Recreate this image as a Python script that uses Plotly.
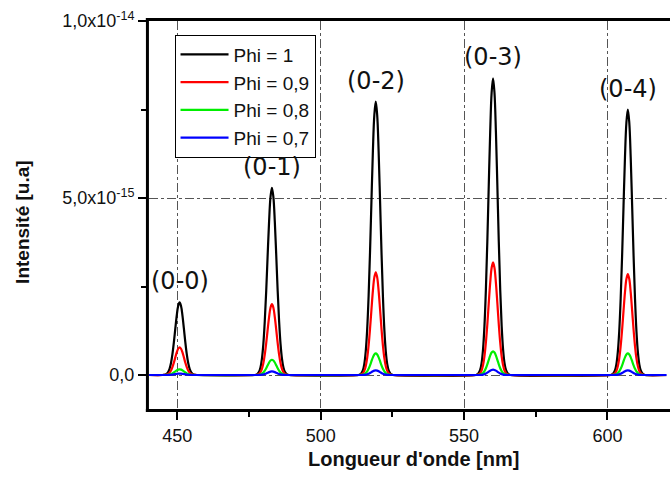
import plotly.graph_objects as go

# ---- data ----
band_labels = ["(0-0)", "(0-1)", "(0-2)", "(0-3)", "(0-4)"]
band_centers_nm = [450.8, 483.0, 519.2, 560.1, 607.1]

series_names = ["Phi = 1", "Phi = 0,9", "Phi = 0,8", "Phi = 0,7"]
peak_phi_1 = [2.05e-15, 5.29e-15, 7.72e-15, 8.38e-15, 7.50e-15]
peak_phi_09 = [0.78e-15, 2.00e-15, 2.90e-15, 3.18e-15, 2.85e-15]
peak_phi_08 = [0.16e-15, 0.43e-15, 0.61e-15, 0.67e-15, 0.61e-15]
peak_phi_07 = [0.04e-15, 0.10e-15, 0.13e-15, 0.15e-15, 0.13e-15]

# normalised band shape (offset in nm from band centre, relative height)
shape_offsets_nm = [-6.0, -5.5, -5.0, -4.5, -4.0, -3.5, -3.0, -2.5, -2.0, -1.5, -1.0, -0.5, 0.0,
                    0.5, 1.0, 1.5, 2.0, 2.5, 3.0, 3.5, 4.0, 4.5, 5.0, 5.5, 6.0]
shape_rel = [0.0, 0.002, 0.007, 0.017, 0.04, 0.086, 0.165, 0.287, 0.449, 0.638, 0.819, 0.951, 1.0,
             0.951, 0.819, 0.638, 0.449, 0.287, 0.165, 0.086, 0.04, 0.017, 0.007, 0.002, 0.0]

x_start_nm, x_end_nm = 440.0, 621.5

x_tick_vals = [450, 500, 550, 600]
x_minor_vals = [475, 525, 575]
y_tick_vals = [0.0, 5e-15, 1e-14]
y_tick_text = ["0,0", "5,0x10<sup>-15</sup>", "1,0x10<sup>-14</sup>"]
y_minor_vals = [2.5e-15, 7.5e-15]

series_peaks = [peak_phi_1, peak_phi_09, peak_phi_08, peak_phi_07]
colors = ["#000000", "#ff0000", "#00ee00", "#0000ff"]


def build_spectrum(peaks):
    xs, ys = [x_start_nm], [0.0]
    for c, h in zip(band_centers_nm, peaks):
        for o, r in zip(shape_offsets_nm, shape_rel):
            xs.append(c + o)
            ys.append(h * r)
    xs.append(x_end_nm)
    ys.append(0.0)
    return xs, ys


fig = go.Figure()
for name, peaks, col in zip(series_names, series_peaks, colors):
    xs, ys = build_spectrum(peaks)
    fig.add_trace(go.Scatter(x=xs, y=ys, mode="lines", name=name,
                             line=dict(color=col, width=2.2), line_shape="spline"))

for lab, c, h in zip(band_labels, band_centers_nm, peak_phi_1):
    fig.add_annotation(x=c, y=h, text=lab, showarrow=False, yanchor="middle", yshift=21,
                       font=dict(family="DejaVu Sans", size=24, color="#111"))

# axis titles
fig.add_annotation(xref="paper", yref="paper", x=0.507, y=-0.128, text="<b>Longueur d'onde [nm]</b>",
                   showarrow=False, xanchor="center", yanchor="middle",
                   font=dict(family="Arial", size=20, color="#111"))
fig.add_annotation(xref="paper", yref="paper", x=-0.242, y=0.482, text="<b>Intensité [u.a]</b>",
                   showarrow=False, textangle=-90, xanchor="center", yanchor="middle",
                   font=dict(family="Arial", size=19, color="#111"))

# hide the stray edge line at the cut-off right side of the plot box
fig.add_shape(type="rect", xref="paper", yref="paper", x0=0.9935, x1=1.003, y0=0.0, y1=1.0,
              line=dict(width=0), fillcolor="white", layer="above")

# frame lines (left, bottom, top) of the plot box
frame = dict(color="black", width=3)
fig.add_shape(type="line", xref="paper", yref="paper", x0=-0.003, x1=-0.003, y0=-0.0077, y1=1.0077,
              line=frame, layer="above")
fig.add_shape(type="line", xref="paper", yref="paper", x0=-0.006, x1=1.0, y0=-0.0039, y1=-0.0039,
              line=frame, layer="above")
fig.add_shape(type="line", xref="paper", yref="paper", x0=-0.006, x1=1.0, y0=1.0039, y1=1.0039,
              line=frame, layer="above")

fig.update_layout(
    width=670, height=477,
    margin=dict(l=149, r=0, t=21, b=68),
    paper_bgcolor="white", plot_bgcolor="white",
    font=dict(family="Arial", size=18, color="#111"),
    showlegend=True,
    legend=dict(x=0.049, y=0.965, xanchor="left", yanchor="top",
                bgcolor="white", bordercolor="black", borderwidth=1,
                font=dict(family="Arial", size=19, color="#111"),
                itemwidth=48, tracegroupgap=0),
)
fig.update_xaxes(
    range=[440.13, 621.8], tickvals=x_tick_vals,
    showline=False,
    ticks="outside", ticklen=10, tickwidth=2, tickcolor="black",
    tickfont=dict(family="Arial", size=18, color="#111"),
    showgrid=True, gridcolor="#555", griddash="dashdot", gridwidth=1,
    zeroline=False,
    minor=dict(tickvals=x_minor_vals, ticks="outside", ticklen=7, tickwidth=2,
               tickcolor="black", showgrid=False),
)
fig.update_yaxes(
    range=[-0.96e-15, 1.0e-14], tickvals=y_tick_vals, ticktext=y_tick_text,
    showline=False,
    ticks="outside", ticklen=10, tickwidth=2, tickcolor="black",
    tickfont=dict(family="Arial", size=18, color="#111"),
    showgrid=True, gridcolor="#555", griddash="dashdot", gridwidth=1,
    zeroline=False,
    minor=dict(tickvals=y_minor_vals, ticks="outside", ticklen=7, tickwidth=2,
               tickcolor="black", showgrid=False),
)

fig.write_html("out.html", config={"displayModeBar": False},
               post_script="document.body.style.margin='0';document.body.style.overflow='hidden';"
                           "document.documentElement.style.overflow='hidden';")
